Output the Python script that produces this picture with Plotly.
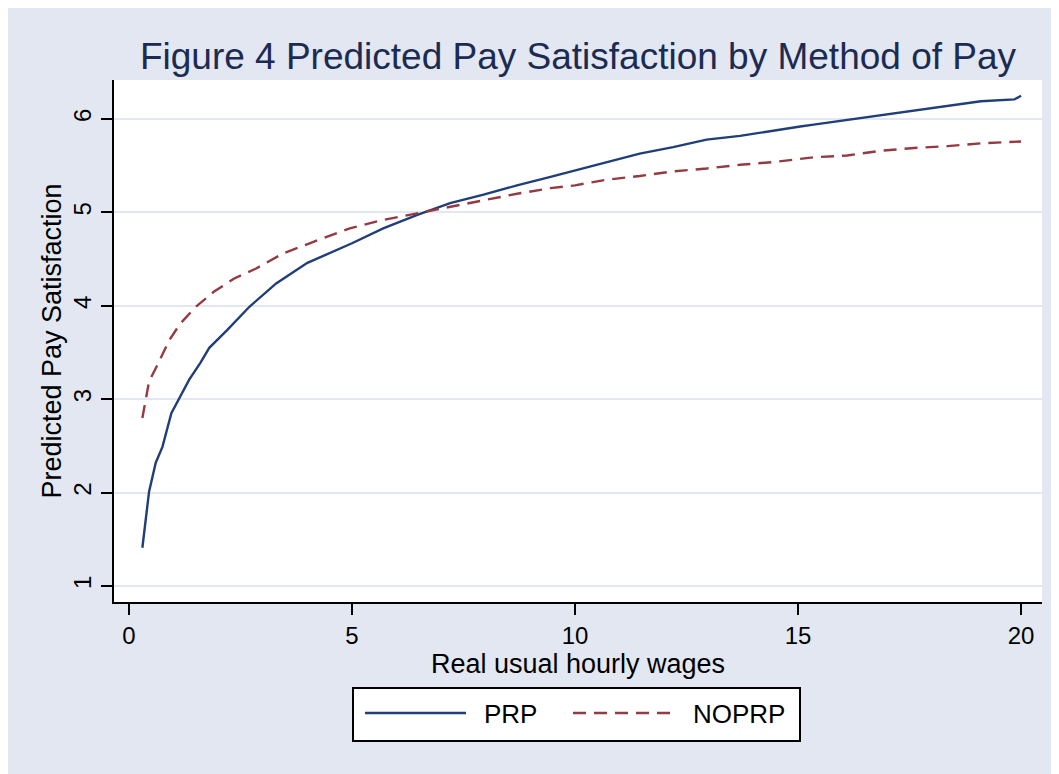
import plotly.graph_objects as go

# Data
wage_prp = [0.3, 0.45, 0.6, 0.75, 0.95, 1.15, 1.35, 1.6, 1.8, 2.2, 2.7, 3.3, 4.0, 5.0, 5.7,
            6.45, 7.2, 7.95, 8.7, 9.45, 10.0, 10.7, 11.45, 12.2, 12.95, 13.7, 14.45, 15.05,
            15.35, 16.1, 16.85, 17.6, 18.35, 19.1, 19.85, 20.0]
prp = [1.41, 2.01, 2.32, 2.49, 2.85, 3.03, 3.21, 3.39, 3.55, 3.74, 3.99, 4.24, 4.46, 4.67, 4.83,
       4.97, 5.10, 5.19, 5.29, 5.38, 5.45, 5.54, 5.63, 5.70, 5.78, 5.82, 5.88, 5.92,
       5.94, 5.99, 6.04, 6.09, 6.14, 6.19, 6.21, 6.25]

wage_noprp = [0.3, 0.45, 0.65, 0.9, 1.15, 1.5, 1.9, 2.35, 2.85, 3.45, 4.05, 4.95, 5.7, 6.45,
              7.2, 7.95, 8.7, 9.45, 10.0, 10.7, 11.45, 12.2, 12.95, 13.7, 14.45, 15.35, 16.1,
              16.85, 17.6, 18.35, 19.1, 20.0]
noprp = [2.80, 3.19, 3.38, 3.63, 3.81, 3.99, 4.15, 4.29, 4.40, 4.56, 4.67, 4.83, 4.92, 4.99,
         5.06, 5.13, 5.20, 5.26, 5.29, 5.35, 5.39, 5.44, 5.47, 5.51, 5.54, 5.59, 5.61,
         5.66, 5.69, 5.71, 5.74, 5.76]

series_names = ["PRP", "NOPRP"]
x_ticks = [0, 5, 10, 15, 20]
y_ticks = [1, 2, 3, 4, 5, 6]

title_text = "Figure 4 Predicted Pay Satisfaction by Method of Pay"
x_title = "Real usual hourly wages"
y_title = "Predicted Pay Satisfaction"

BG = "#E2E7F1"
NAVY = "#203E78"
MAROON = "#943A42"
FONT = "Liberation Sans, Arial, sans-serif"
DASH = "13px,8px"

W, H = 1059, 774
OFF = 8  # page body margin: figure pixels = screen pixels - OFF
L, R, T, B = 114 - OFF, 1042 - OFF, 80 - OFF, 602 - OFF


def px_x(p):
    """screen pixel x -> paper coordinate"""
    return (p - OFF - L) / (R - L)


def px_y(p):
    """screen pixel y -> paper coordinate"""
    return (B - (p - OFF)) / (B - T)


fig = go.Figure()
fig.add_trace(go.Scatter(x=wage_prp, y=prp, mode="lines", name=series_names[0],
                         line=dict(color=NAVY, width=2.4), showlegend=False))
fig.add_trace(go.Scatter(x=wage_noprp, y=noprp, mode="lines", name=series_names[1],
                         line=dict(color=MAROON, width=2.4, dash=DASH), showlegend=False))

fig.update_layout(
    width=W, height=H,
    margin=dict(l=L, r=W - R, t=T, b=H - B, pad=0, autoexpand=False),
    paper_bgcolor=BG, plot_bgcolor="white",
    font=dict(family=FONT, color="black"),
    title=dict(text=title_text, x=(578 - OFF) / W, xanchor="center", xref="container",
               y=1 - (56 - OFF) / H, yanchor="middle", yref="container",
               font=dict(size=37, color="#1C2B52", family=FONT)),
    showlegend=False,
)
fig.update_xaxes(range=[-0.336, 20.47], tickvals=x_ticks, ticks="outside", ticklen=11,
                 tickwidth=2, tickcolor="black", showline=True, linecolor="black",
                 linewidth=2, showgrid=False, zeroline=False, automargin=False,
                 tickfont=dict(size=24, family=FONT),
                 title=dict(text=x_title, font=dict(size=27, family=FONT), standoff=3))
fig.update_yaxes(range=[0.829, 6.418], tickvals=y_ticks, ticks="outside", ticklen=11,
                 tickwidth=2, tickcolor="black", showline=True, linecolor="black",
                 linewidth=2, showgrid=True, gridcolor=BG, gridwidth=2, zeroline=False,
                 automargin=False,
                 tickangle=-90, tickfont=dict(size=24, family=FONT),
                 title=dict(text=y_title, font=dict(size=27, family=FONT), standoff=0))

# legend box (Stata style) below the plot
fig.add_shape(type="rect", xref="paper", yref="paper",
              x0=px_x(353), x1=px_x(800), y0=px_y(741), y1=px_y(688),
              fillcolor="white", line=dict(color="black", width=2))
legend_items = [
    (series_names[0], NAVY, "solid", 365, 466, 482),
    (series_names[1], MAROON, DASH, 573, 675, 691),
]
for name, color, dash, lx0, lx1, tx in legend_items:
    fig.add_shape(type="line", xref="paper", yref="paper",
                  x0=px_x(lx0), x1=px_x(lx1), y0=px_y(713), y1=px_y(713),
                  line=dict(color=color, width=2.4, dash=dash))
    fig.add_annotation(text=name, xref="paper", yref="paper", x=px_x(tx), y=px_y(714),
                       xanchor="left", yanchor="middle", showarrow=False,
                       font=dict(size=26, family=FONT, color="black"))

fig.write_html("out.html")
